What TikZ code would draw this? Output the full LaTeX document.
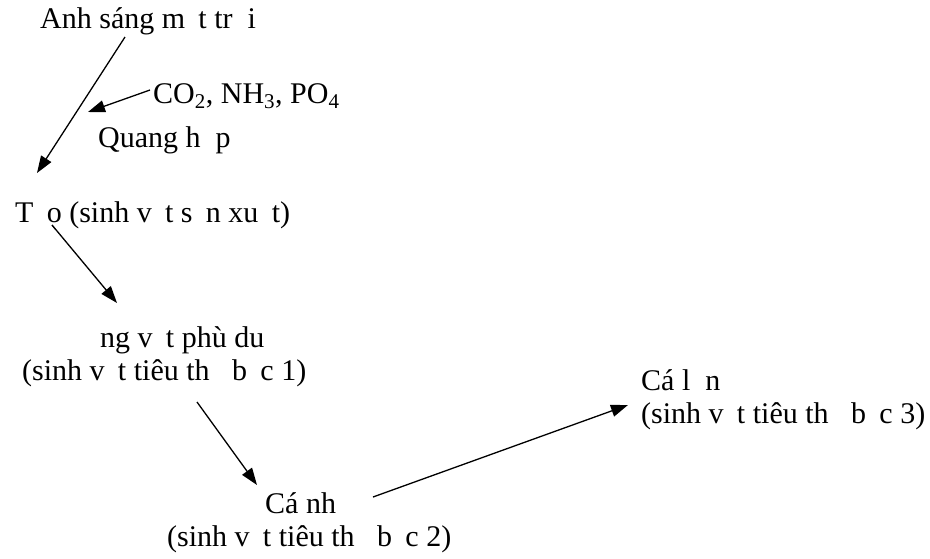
\documentclass[tikz,border=0pt]{standalone}
\usepackage{fontspec}
\setmainfont{Liberation Serif}
\usetikzlibrary{arrows.meta}
\tikzset{
  lbl/.style={anchor=base west, inner sep=0pt, font=\fontsize{30}{34}\selectfont},
  arr/.style={line width=1.3pt, -{Triangle[length=17pt,width=12pt]}},
  tickmk/.style={line width=0.9pt}
}
\newcommand{\gp}[1]{\phantom{#1}}
\begin{document}
\begin{tikzpicture}[x=1pt,y=-1pt]
\useasboundingbox (0,0) rectangle (930,558);
\node[lbl] (sun) at (40,28) {Anh sáng m\gp{a}t tr\gp{o}i};
\node[lbl] (co2) at (153,103) {CO\textsubscript{2}, NH\textsubscript{3}, PO\textsubscript{4}};
\node[lbl] (qh) at (98,147) {Quang h\gp{o}p};
\node[lbl] (tao) at (15,222) {T\gp{a}o (sinh v\gp{a}t s\gp{a}n xu\gp{a}t)};
\node[lbl] (dv1) at (100,347) {ng v\gp{a}t phù du};
\node[lbl] (dv2) at (22,380) {(sinh v\gp{a}t tiêu th\gp{u} b\gp{a}c 1)};
\node[lbl] (cn1) at (265,513) {Cá nh};
\node[lbl] (cn2) at (167,546) {(sinh v\gp{a}t tiêu th\gp{u} b\gp{a}c 2)};
\node[lbl] (cl1) at (641,390) {Cá l\gp{o}n};
\node[lbl] (cl2) at (641,423) {(sinh v\gp{a}t tiêu th\gp{u} b\gp{a}c 3)};
\coordinate (m1) at (52,225);
\coordinate (m2) at (55,229);
\draw[tickmk] (m1) -- (m2);
\coordinate (a1s) at (125,37);
\coordinate (a1e) at (37,173);
\coordinate (a2s) at (150,90);
\coordinate (a2e) at (88,112);
\coordinate (a3s) at (52,225);
\coordinate (a3e) at (117,303);
\coordinate (a4s) at (197,402);
\coordinate (a4e) at (257,485);
\coordinate (a5s) at (373,497);
\coordinate (a5e) at (628,405);
\draw[arr] (a1s) -- (a1e);
\draw[arr] (a2s) -- (a2e);
\draw[arr] (a3s) -- (a3e);
\draw[arr] (a4s) -- (a4e);
\draw[arr] (a5s) -- (a5e);
\end{tikzpicture}
\end{document}
